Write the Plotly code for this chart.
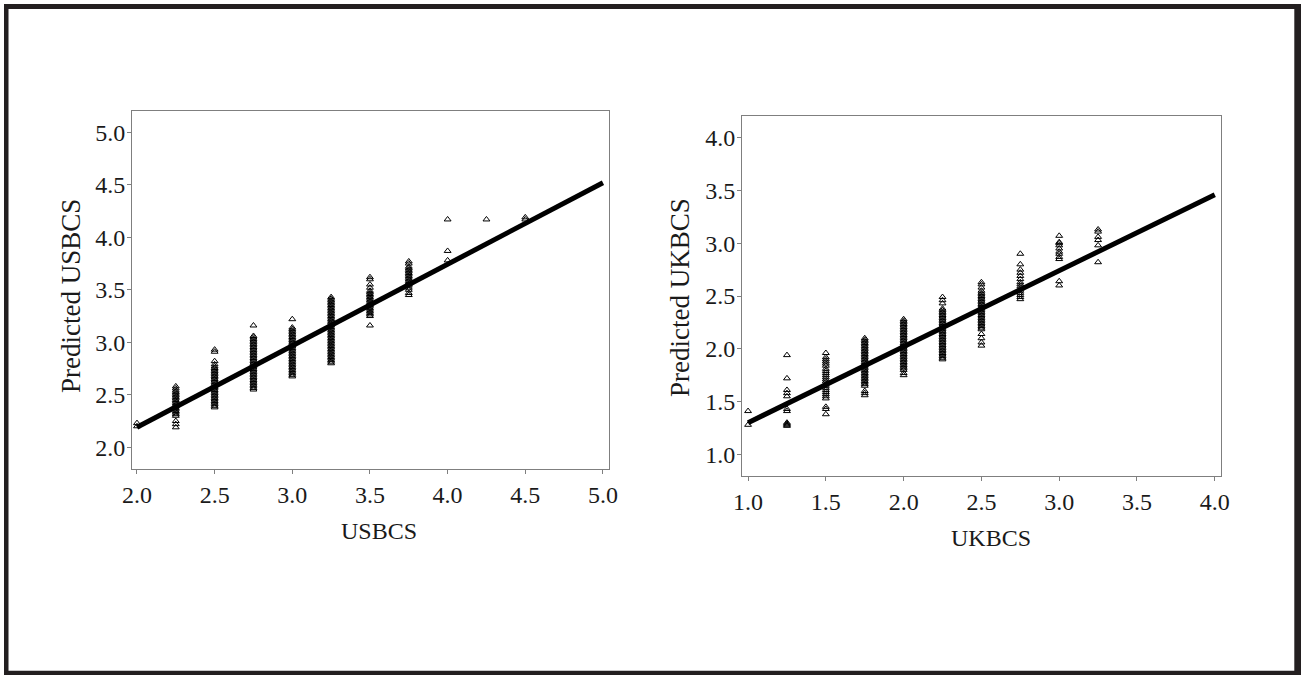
import plotly.graph_objects as go

# ---------------- data ----------------
us_levels = [2.0, 2.25, 2.5, 2.75, 3.0, 3.25, 3.5, 3.75, 4.0, 4.25, 4.5]
us_pred = [
    [2.23, 2.20],
    [2.58, 2.56, 2.54, 2.525, 2.51, 2.495, 2.48, 2.465, 2.45, 2.435, 2.42, 2.405, 2.39, 2.375,
     2.36, 2.345, 2.33, 2.315, 2.30, 2.25, 2.22, 2.19],
    [2.93, 2.91, 2.82, 2.79, 2.77, 2.755, 2.74, 2.725, 2.71, 2.695, 2.68, 2.665, 2.65, 2.635,
     2.62, 2.605, 2.59, 2.575, 2.56, 2.545, 2.53, 2.515, 2.50, 2.485, 2.47, 2.455, 2.44, 2.425,
     2.41, 2.395, 2.38],
    [3.16, 3.06, 3.045, 3.03, 3.015, 3.00, 2.985, 2.97, 2.955, 2.94, 2.925, 2.91, 2.895, 2.88,
     2.865, 2.85, 2.835, 2.82, 2.805, 2.79, 2.775, 2.76, 2.745, 2.73, 2.715, 2.70, 2.685, 2.67,
     2.655, 2.64, 2.625, 2.61, 2.595, 2.58, 2.565, 2.55],
    [3.22, 3.14, 3.125, 3.11, 3.095, 3.08, 3.065, 3.05, 3.035, 3.02, 3.005, 2.99, 2.975, 2.96,
     2.945, 2.93, 2.915, 2.90, 2.885, 2.87, 2.855, 2.84, 2.825, 2.81, 2.795, 2.78, 2.765, 2.75,
     2.735, 2.72, 2.705, 2.69, 2.675],
    [3.43, 3.415, 3.40, 3.385, 3.37, 3.355, 3.34, 3.325, 3.31, 3.295, 3.28, 3.265, 3.25, 3.235,
     3.22, 3.205, 3.19, 3.175, 3.16, 3.145, 3.13, 3.115, 3.10, 3.085, 3.07, 3.055, 3.04, 3.025,
     3.01, 2.995, 2.98, 2.965, 2.95, 2.935, 2.92, 2.905, 2.89, 2.875, 2.86, 2.845, 2.83, 2.815,
     2.80],
    [3.62, 3.60, 3.55, 3.52, 3.49, 3.475, 3.46, 3.445, 3.43, 3.415, 3.40, 3.385, 3.37, 3.355,
     3.34, 3.325, 3.31, 3.295, 3.28, 3.265, 3.25, 3.16],
    [3.77, 3.75, 3.72, 3.705, 3.69, 3.675, 3.66, 3.645, 3.63, 3.615, 3.60, 3.585, 3.57, 3.555,
     3.54, 3.52, 3.50, 3.47, 3.45],
    [4.17, 3.87, 3.78],
    [4.17],
    [4.19, 4.17],
]
us_fit_x = [2.0, 5.0]
us_fit_y = [2.19, 4.52]

uk_levels = [1.0, 1.25, 1.5, 1.75, 2.0, 2.25, 2.5, 2.75, 3.0, 3.25]
uk_pred = [
    [1.41, 1.28],
    [1.94, 1.72, 1.61, 1.58, 1.55, 1.43, 1.41, 1.30, 1.29, 1.28, 1.27],
    [1.96, 1.92, 1.90, 1.88, 1.86, 1.84, 1.81, 1.79, 1.77, 1.75, 1.73, 1.71, 1.69, 1.67, 1.65,
     1.63, 1.61, 1.59, 1.57, 1.55, 1.53, 1.45, 1.43, 1.38],
    [2.10, 2.085, 2.07, 2.055, 2.04, 2.025, 2.01, 1.995, 1.98, 1.965, 1.95, 1.935, 1.92, 1.905,
     1.89, 1.875, 1.86, 1.845, 1.83, 1.815, 1.80, 1.785, 1.77, 1.755, 1.74, 1.725, 1.71, 1.695,
     1.68, 1.665, 1.65, 1.60, 1.58, 1.56],
    [2.28, 2.265, 2.25, 2.235, 2.22, 2.205, 2.19, 2.175, 2.16, 2.145, 2.13, 2.115, 2.10, 2.085,
     2.07, 2.055, 2.04, 2.025, 2.01, 1.995, 1.98, 1.965, 1.95, 1.935, 1.92, 1.905, 1.89, 1.875,
     1.86, 1.845, 1.83, 1.815, 1.80, 1.77, 1.75],
    [2.49, 2.46, 2.43, 2.38, 2.365, 2.35, 2.335, 2.32, 2.305, 2.29, 2.275, 2.26, 2.245, 2.23,
     2.215, 2.20, 2.185, 2.17, 2.155, 2.14, 2.125, 2.11, 2.095, 2.08, 2.065, 2.05, 2.035, 2.02,
     2.005, 1.99, 1.975, 1.96, 1.945, 1.93, 1.915, 1.90],
    [2.63, 2.61, 2.58, 2.55, 2.53, 2.515, 2.50, 2.485, 2.47, 2.455, 2.44, 2.425, 2.41, 2.395,
     2.38, 2.365, 2.35, 2.335, 2.32, 2.305, 2.29, 2.275, 2.26, 2.245, 2.23, 2.215, 2.20, 2.185,
     2.14, 2.10, 2.06, 2.03],
    [2.90, 2.80, 2.75, 2.72, 2.69, 2.66, 2.63, 2.61, 2.59, 2.57, 2.55, 2.53, 2.51, 2.49, 2.47],
    [3.07, 3.01, 3.00, 2.98, 2.95, 2.92, 2.90, 2.87, 2.85, 2.64, 2.60],
    [3.13, 3.11, 3.06, 3.03, 2.98, 2.82],
]
uk_fit_x = [1.0, 4.0]
uk_fit_y = [1.30, 3.46]

x_titles = ["USBCS", "UKBCS"]
y_titles = ["Predicted USBCS", "Predicted UKBCS"]

# ---------------- figure ----------------
W, H = 1301, 675
FONT = "Liberation Serif, Times New Roman, serif"
TXT = "#1a1a1a"
AXC = "#7f7f7f"


def px_x(p):
    return p / W


def px_y(p):
    return (H - p) / H


def flatten(levels, preds):
    xs, ys = [], []
    for lv, vals in zip(levels, preds):
        for v in vals:
            xs.append(lv)
            ys.append(v)
    return xs, ys


fig = go.Figure()

marker = dict(symbol="triangle-up-open", size=6, color="black", line=dict(width=1, color="black"))

ux, uy = flatten(us_levels, us_pred)
fig.add_trace(go.Scatter(x=ux, y=uy, mode="markers", marker=marker, xaxis="x", yaxis="y",
                         showlegend=False, hoverinfo="x+y"))
fig.add_trace(go.Scatter(x=us_fit_x, y=us_fit_y, mode="lines", line=dict(color="black", width=5),
                         xaxis="x", yaxis="y", showlegend=False))

kx, ky = flatten(uk_levels, uk_pred)
fig.add_trace(go.Scatter(x=kx, y=ky, mode="markers", marker=marker, xaxis="x2", yaxis="y2",
                         showlegend=False, hoverinfo="x+y"))
fig.add_trace(go.Scatter(x=uk_fit_x, y=uk_fit_y, mode="lines", line=dict(color="black", width=5),
                         xaxis="x2", yaxis="y2", showlegend=False))

axis_common = dict(
    showgrid=False, zeroline=False, showline=True, mirror=True, linecolor=AXC, linewidth=1,
    ticks="outside", ticklen=4, tickcolor=AXC, tickwidth=1, dtick=0.5, tickformat=".1f",
    automargin=False,
    tickfont=dict(family=FONT, size=24, color=TXT),
)
yaxis_extra = dict(ticklabelstandoff=-3)

fig.update_layout(
    width=W, height=H, autosize=False,
    margin=dict(l=0, r=0, t=0, b=0, pad=0, autoexpand=False),
    paper_bgcolor="white", plot_bgcolor="white",
    xaxis=dict(domain=[px_x(132), px_x(609)], range=[1.968, 5.039], tick0=2.0, anchor="y",
               **axis_common),
    yaxis=dict(domain=[px_y(469), px_y(111)], range=[1.793, 5.203], tick0=2.0, anchor="x",
               **axis_common, **yaxis_extra),
    xaxis2=dict(domain=[px_x(742), px_x(1221)], range=[0.961, 4.04], tick0=1.0, anchor="y2",
                **axis_common),
    yaxis2=dict(domain=[px_y(476), px_y(116)], range=[0.795, 4.205], tick0=1.0, anchor="x2",
                **axis_common, **yaxis_extra),
)

annots = [
    dict(text=x_titles[0], x=px_x(379), y=px_y(531), textangle=0, font_size=24),
    dict(text=y_titles[0], x=px_x(71), y=px_y(296), textangle=-90, font_size=27),
    dict(text=x_titles[1], x=px_x(991), y=px_y(538), textangle=0, font_size=24),
    dict(text=y_titles[1], x=px_x(680), y=px_y(298), textangle=-90, font_size=27),
]
for a in annots:
    fs = a.pop("font_size")
    fig.add_annotation(xref="paper", yref="paper", xanchor="center", yanchor="middle",
                       showarrow=False, font=dict(family=FONT, size=fs, color=TXT), **a)

# outer frame (four bars)
FR = "#231f20"
frame = [
    (4, 4, 8.5, 675),        # left
    (4, 4, 1301, 9),         # top
    (1294.3, 4, 1301, 675),  # right
    (4, 670.7, 1301, 675),   # bottom
]
for x0, y0, x1, y1 in frame:
    fig.add_shape(type="rect", xref="paper", yref="paper",
                  x0=px_x(x0), x1=px_x(x1), y0=px_y(y1), y1=px_y(y0),
                  fillcolor=FR, line=dict(width=0))

fig.write_html(
    "out.html",
    config={"displayModeBar": False, "responsive": False},
    post_script=(
        "document.body.style.margin='0';"
        "document.body.style.overflow='hidden';"
        "document.documentElement.style.overflow='hidden';"
    ),
)
